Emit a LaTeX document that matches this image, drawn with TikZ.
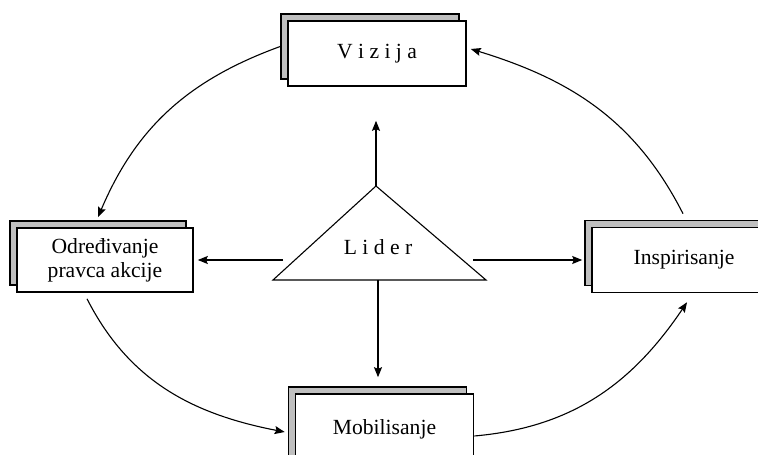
\documentclass[tikz,border=0pt]{standalone}
\usepackage{fontspec}
\setmainfont{Liberation Serif}
\usepackage{tikz}
\usetikzlibrary{arrows.meta}
\usetikzlibrary{shadows}

\begin{document}
\begin{tikzpicture}[
  x=0.5pt,y=0.5pt,
  ->,>={Stealth[length=5pt,width=4pt,inset=0.8pt]},line width=0.55pt,
  font=\fontsize{10.8}{12}\selectfont,
  stack/.style={draw,rectangle,fill=white,line width=0.8pt,minimum width=89pt,minimum height=32.5pt,inner sep=0pt,align=center,
    copy shadow={shadow xshift=-3.5pt,shadow yshift=3.5pt,fill=black!25,draw=black,line width=0.8pt}}]

      \useasboundingbox (0,0) rectangle (758,454);

      % boxes
      \node [stack] (vizija) at (377,400.5) {V i z i j a};
      \node [stack,minimum width=88pt,minimum height=32pt] (odredjivanje) at (105,194) {Određivanje\\pravca akcije};
      \node [stack,minimum width=92pt] (inspirisanje) at (684,194) {Inspirisanje};
      \node [stack,minimum height=35pt] (mobilisanje) at (384.5,25) {Mobilisanje};

      % lider
      \coordinate (apex) at (376,268);
      \coordinate (base) at (378,174);
      \draw [-] (apex) -- (273,174) -- (486,174) -- cycle;
      \node (lider) at (378,207) {L i d e r};
      \coordinate (lleft) at (283,194);
      \coordinate (lright) at (473,194);

      \draw (apex) -- ([yshift=-17pt]apex |- vizija.south);
      \draw [shorten >=2pt] (lleft) -- (odredjivanje);
      \draw [shorten >=4.5pt] (lright) -- (inspirisanje);
      \draw [shorten >=8pt] (base) -- (base |- mobilisanje.north);

      % cycle
      \draw ([xshift=-3.5pt,yshift=3.5pt]vizija.west) to[out=200,in=67] ([xshift=-3.5pt,yshift=5pt]odredjivanje.north);
      \draw ([xshift=-9pt,yshift=-3pt]odredjivanje.south) to[out=-63,in=169] ([xshift=-5pt,yshift=-1.5pt]mobilisanje.west);
      \draw ([yshift=-3.5pt]mobilisanje.east) to[out=5,in=236] ([xshift=1.5pt,yshift=-4.5pt]inspirisanje.south);
      \draw ([xshift=-0.5pt,yshift=6.5pt]inspirisanje.north) to[out=117,in=-17] ([xshift=2pt,yshift=2.25pt]vizija.east);

\end{tikzpicture}
\end{document}
